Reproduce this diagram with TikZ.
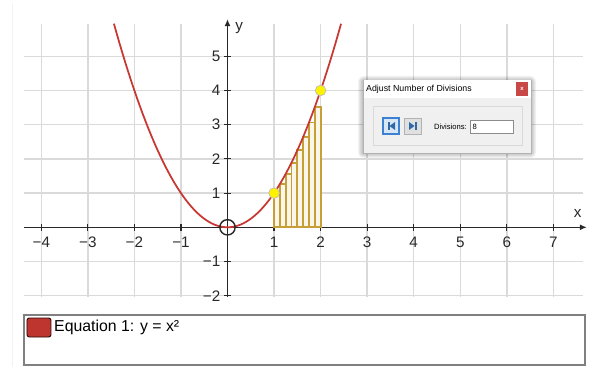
\documentclass[tikz,border=0pt]{standalone}
\usepackage{fontspec}
\setmainfont{Liberation Sans}
\usepackage{xcolor}
\usetikzlibrary{arrows.meta}

\definecolor{curvered}{RGB}{200,56,50}
\definecolor{bargold}{RGB}{198,160,55}
\definecolor{barfill}{RGB}{250,246,234}
\definecolor{gridgray}{RGB}{218,218,218}
\definecolor{axisgray}{RGB}{40,40,40}
\definecolor{winred}{RGB}{200,72,72}
\definecolor{winblue}{RGB}{60,130,210}
\definecolor{wingray}{RGB}{240,240,240}

\begin{document}
\begin{tikzpicture}[x=1.3965cm,y=1.026cm,
	ticklabel/.style={font=\fontsize{13}{13}\selectfont,inner sep=0pt,text=axisgray},
	bar/.style={draw=bargold,fill=barfill,line width=1.6pt},
	gridline/.style={gridgray,line width=1.2pt},
	axisline/.style={axisgray,line width=1.2pt,-{Latex[length=6pt,width=5pt]}},
	knob/.style={circle,draw=black!25,fill=yellow,line width=0.6pt,minimum size=0.32cm,inner sep=0pt}]
	
	% Frame of the picture, in pixels
	\begin{scope}[shift={(-4.887,6.646)},x=0.03cm,y=-0.03cm]
		\useasboundingbox (0,0) rectangle (590,367);
		\draw[black!5] (12,4) -- (12,367);
	\end{scope}
	
	% The grid
	\foreach \i in {-4,...,7}
		\draw[gridline] (\i,-2.03) -- (\i,5.94);
	\foreach \j in {-2,...,5}
		\draw[gridline] (-4.37,\j) -- (7.63,\j);
	
	% Axes
	\coordinate (xmin) at (-4.37,0);
	\coordinate (xmax) at (7.72,0);
	\coordinate (ymin) at (0,-2.03);
	\coordinate (ymax) at (0,6.09);
	\draw[axisline] (xmin) -- (xmax);
	\draw[axisline] (ymin) -- (ymax);
	\node[ticklabel] (xlabel) at (7.52,0.39) {x};
	\node[ticklabel] (ylabel) at (0.25,5.83) {y};
	
	% Ticks and their labels
	\foreach \i/\t in {-4/−4,-3/−3,-2/−2,-1/−1,1/1,2/2,3/3,4/4,5/5,6/6,7/7}{
		\draw[axisgray,line width=1pt] (\i,-0.1) -- (\i,0.1);
		\node[ticklabel] (xt\i) at (\i,-0.43) {\t};
	}
	\foreach \j/\t in {-2/−2,-1/−1,1/1,2/2,3/3,4/4,5/5}{
		\draw[axisgray,line width=1pt] (-0.07,\j) -- (0.07,\j);
		\node[ticklabel,anchor=east] (yt\j) at (-0.15,\j) {\t};
	}
	
	% Left sums on [1,2] with 8 divisions
	\foreach \k in {0,...,7}
		\draw[bar] ({1+\k/8},0) rectangle ({1+(\k+1)/8},{(1+\k/8)^2});
	
	% The curve y = x^2
	\draw[curvered,line width=1.5pt,domain=-2.44:2.44,samples=80] plot (\x,{\x*\x});
	
	% Points
	\node[circle,draw=axisgray,line width=1.2pt,minimum size=0.46cm,inner sep=0pt] (origin) at (0,0) {};
	\node[knob] (left) at (1,1) {};
	\node[knob] (right) at (2,4) {};
	
	% Dialog and legend, in pixels
	\begin{scope}[shift={(-4.887,6.646)},x=0.03cm,y=-0.03cm]
		% shadow
		\foreach \r in {1,...,5}
			\fill[black,opacity=0.05,rounded corners=\r pt] (363-\r,80-\r+1) rectangle (531+\r,153+\r);
		\draw[black!30,fill=wingray] (363,80) rectangle (531,153);
		\fill[white] (363.5,80.5) rectangle (530.5,98);
		\node[anchor=west,font=\fontsize{7.5}{8}\selectfont,inner sep=0pt] (title) at (366,89) {Adjust Number of Divisions};
		\fill[winred] (516,82) rectangle (528,96);
		\node[text=white,font=\fontsize{5}{5}\selectfont\bfseries,inner sep=0pt] (close) at (522,89) {x};
		\draw[black!15,fill=black!6] (373,106) rectangle (522,145);
		% first / last buttons
		\draw[winblue,fill=winblue!20,line width=1pt] (383,118) rectangle (399,134);
		\fill[winblue!80!black] (387.5,122) rectangle (389.5,130);
		\fill[winblue!80!black] (395,122) -- (389.5,126) -- (395,130) -- cycle;
		\draw[black!30,fill=black!12,line width=0.6pt] (404,118) rectangle (421,134);
		\fill[winblue!80!black] (409,122) -- (414.5,126) -- (409,130) -- cycle;
		\fill[winblue!80!black] (414.5,122) rectangle (416.5,130);
		\node[anchor=east,font=\fontsize{6.5}{7}\selectfont,inner sep=0pt] (divlabel) at (467,126.5) {Divisions:};
		\draw[black!45,fill=white,line width=0.6pt] (470,120) rectangle (513,133);
		\node[anchor=west,font=\fontsize{6.5}{7}\selectfont,inner sep=0pt] (divvalue) at (472.5,126.5) {8};
		
		% legend
		\draw[black!50,line width=1pt] (24,315) rectangle (585,365);
		\draw[black!80!curvered,fill=curvered!95!black,line width=0.8pt,rounded corners=2pt] (27,318) rectangle (51,337);
		\node[anchor=west,font=\fontsize{13.5}{14}\selectfont,inner sep=0pt] (eqn) at (54,327) {Equation 1: y = x²};
	\end{scope}
	
\end{tikzpicture}
\end{document}
